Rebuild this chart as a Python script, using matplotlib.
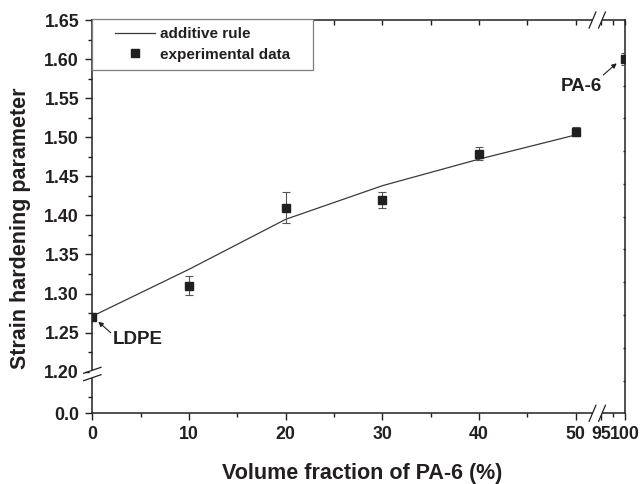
import numpy as np
import matplotlib
matplotlib.use('Agg')
import matplotlib.pyplot as plt
from matplotlib.ticker import FixedLocator, FixedFormatter, NullFormatter
from matplotlib.lines import Line2D
from matplotlib.patches import Polygon
from matplotlib.legend_handler import HandlerLine2D
from matplotlib.transforms import IdentityTransform

plt.rcParams['font.family'] = ['Liberation Sans', 'DejaVu Sans']
plt.rcParams['font.weight'] = 'bold'
plt.rcParams['axes.labelweight'] = 'bold'

TXT = '#231f20'

# ---------------- data ----------------
pa6_fraction = [0, 10, 20, 30, 40, 50, 100]
strain_hardening = [1.270, 1.310, 1.410, 1.420, 1.479, 1.507, 1.600]
strain_err = [0.005, 0.012, 0.020, 0.010, 0.008, 0.006, 0.008]

rule_fraction = [0, 10, 20, 30, 40, 50]
rule_values = [1.271, 1.331, 1.395, 1.438, 1.472, 1.503]

x_major = [0, 10, 20, 30, 40, 50, 95, 100]
x_major_labels = ['0', '10', '20', '30', '40', '50', '95', '100']
x_minor = [5, 15, 25, 35, 45, 97.5]
y_major = [0.0, 1.20, 1.25, 1.30, 1.35, 1.40, 1.45, 1.50, 1.55, 1.60, 1.65]
y_major_labels = ['0.0', '1.20', '1.25', '1.30', '1.35', '1.40', '1.45',
                  '1.50', '1.55', '1.60', '1.65']
y_minor = [0.025, 1.225, 1.275, 1.325, 1.375, 1.425, 1.475, 1.525, 1.575, 1.625]

# ---------------- broken-axis scales ----------------
XB = [-100, 0, 50, 95, 100, 200]
XP = [-967, 0, 483.5, 508.7, 532.7, 1012.7]
YB = [-1, 0, 0.0625, 1.20, 1.65, 3.0]
YP = [-656, 0, 41.0, 41.6, 393.3, 1448.3]

def xf(v):
    return np.interp(v, XB, XP)

def xi(v):
    return np.interp(v, XP, XB)

def yf(v):
    return np.interp(v, YB, YP)

def yi(v):
    return np.interp(v, YP, YB)

W, H = 642, 484
fig = plt.figure(figsize=(W / 100, H / 100), dpi=100)
fig.patch.set_facecolor('white')
pos = [92.3 / W, (H - 413.3) / H, (625 - 92.3) / W, (413.3 - 20) / H]
ax = fig.add_axes(pos)
ax.set_zorder(2)
ax.patch.set_visible(False)

ax.set_xscale('function', functions=(xf, xi))
ax.set_yscale('function', functions=(yf, yi))
ax.set_xlim(0, 100)
ax.set_ylim(0, 1.65)

h_line, = ax.plot(rule_fraction, rule_values, color='#3a3a3a', lw=0.9,
                  label='additive rule', zorder=3)
ax.errorbar(pa6_fraction, strain_hardening, yerr=strain_err, fmt='none',
            ecolor='#555555', elinewidth=0.8, capsize=2.9, capthick=0.8, zorder=4)
h_pts, = ax.plot(pa6_fraction, strain_hardening, ls='none', marker='s', ms=5.8,
                 color=TXT, label='experimental data', zorder=5)

ax.xaxis.set_major_locator(FixedLocator(x_major))
ax.xaxis.set_major_formatter(FixedFormatter(x_major_labels))
ax.xaxis.set_minor_locator(FixedLocator(x_minor))
ax.xaxis.set_minor_formatter(NullFormatter())
ax.yaxis.set_major_locator(FixedLocator(y_major))
ax.yaxis.set_major_formatter(FixedFormatter(y_major_labels))
ax.yaxis.set_minor_locator(FixedLocator(y_minor))
ax.yaxis.set_minor_formatter(NullFormatter())

for s in ax.spines.values():
    s.set_color(TXT)
    s.set_linewidth(1.1)

ax.tick_params(axis='both', which='major', direction='out', length=5.0, width=1.0,
               color=TXT, labelcolor=TXT, labelsize=12.8, pad=4.5)
ax.tick_params(axis='both', which='minor', direction='out', length=2.9, width=1.0,
               color=TXT)
ax.tick_params(top=False, right=False, which='both')

ax.set_xlabel('Volume fraction of PA-6 (%)', fontsize=15.5, color=TXT,
              fontweight='bold')
ax.xaxis.set_label_coords((362 - 92.3) / 532.7, (413.3 - 462.5) / 393.3)
ax.set_ylabel('Strain hardening parameter', fontsize=15.5, color=TXT,
              fontweight='bold')
ax.yaxis.set_label_coords((31 - 92.3) / 532.7, (413.3 - 228.3) / 393.3)

# overlay axes for inward top/right ticks
axt = fig.add_axes(pos, frameon=False)
axt.set_zorder(1)
axt.set_xscale('function', functions=(xf, xi))
axt.set_xlim(0, 100)
axt.set_ylim(0, 12)
axt.xaxis.set_major_locator(FixedLocator(x_major))
axt.xaxis.set_minor_locator(FixedLocator(x_minor))
axt.yaxis.set_major_locator(FixedLocator(list(range(1, 12))))
axt.xaxis.tick_top()
axt.yaxis.tick_right()
axt.tick_params(axis='x', which='both', direction='in', length=3.6, width=1.0,
                color=TXT, labeltop=False, labelbottom=False)
axt.tick_params(axis='y', which='both', direction='in', length=1.8, width=1.0,
                color=TXT, labelright=False, labelleft=False)

# legend
leg = ax.legend(handles=[h_line, h_pts], loc='upper left',
                bbox_to_anchor=(0, 0.9025, (313 - 92.3) / 532.7, 0.1),
                mode='expand', borderaxespad=0, fontsize=11,
                handlelength=3.55, handletextpad=0.33, borderpad=0.55,
                labelspacing=0.4, fancybox=False, framealpha=1,
                edgecolor='#7f7f7f', numpoints=1,
                handler_map={Line2D: HandlerLine2D(xpad=0.93)})
leg.get_frame().set_linewidth(0.9)
for t in leg.get_texts():
    t.set_color(TXT)

# annotations
ax.text(2.15, 1.236, 'LDPE', fontsize=13.5, color=TXT, ha='left', va='baseline')
ax.annotate('', xy=(0.62, 1.264), xytext=(1.90, 1.2499),
            arrowprops=dict(arrowstyle='-|>', color=TXT, lw=0.8,
                            mutation_scale=7, shrinkA=0, shrinkB=0))
ax.text(60.2, 1.5596, 'PA-6', fontsize=13.5, color=TXT, ha='center', va='baseline')
ax.annotate('', xy=(98.27, 1.5946), xytext=(95.48, 1.5797),
            arrowprops=dict(arrowstyle='-|>', color=TXT, lw=0.8,
                            mutation_scale=7, shrinkA=0, shrinkB=0))

# break marks (display pixel coordinates from the axes transforms)
def slash_pair(centers, hdx, hdy, gap_half):
    (x1, y1), (x2, y2) = centers
    poly = Polygon([(x1 - hdx * gap_half, y1 - hdy * gap_half),
                    (x1 + hdx * gap_half, y1 + hdy * gap_half),
                    (x2 + hdx * gap_half, y2 + hdy * gap_half),
                    (x2 - hdx * gap_half, y2 - hdy * gap_half)],
                   closed=True, facecolor='white', edgecolor='none',
                   transform=IdentityTransform(), zorder=10)
    fig.add_artist(poly)
    for (cx, cy) in centers:
        fig.add_artist(Line2D([cx - hdx, cx + hdx], [cy - hdy, cy + hdy],
                              color=TXT, lw=0.9, transform=IdentityTransform(),
                              zorder=11))

x95 = ax.transData.transform((95, 1.3))[0]
y_bot = ax.transAxes.transform((0, 0))[1]
y_top = ax.transAxes.transform((0, 1))[1]
for yy in (y_bot, y_top):
    slash_pair([(x95 - 8.5, yy), (x95 + 1.0, yy)], 3.4, 8.0, 0.35)

x_left = ax.transAxes.transform((0, 0))[0]
y120 = ax.transData.transform((1, 1.20))[1]
slash_pair([(x_left, y120 + 1.4), (x_left, y120 - 6.0)], 8.7, 3.0, 0.3)

fig.savefig('out.png', dpi=100, facecolor='white')
